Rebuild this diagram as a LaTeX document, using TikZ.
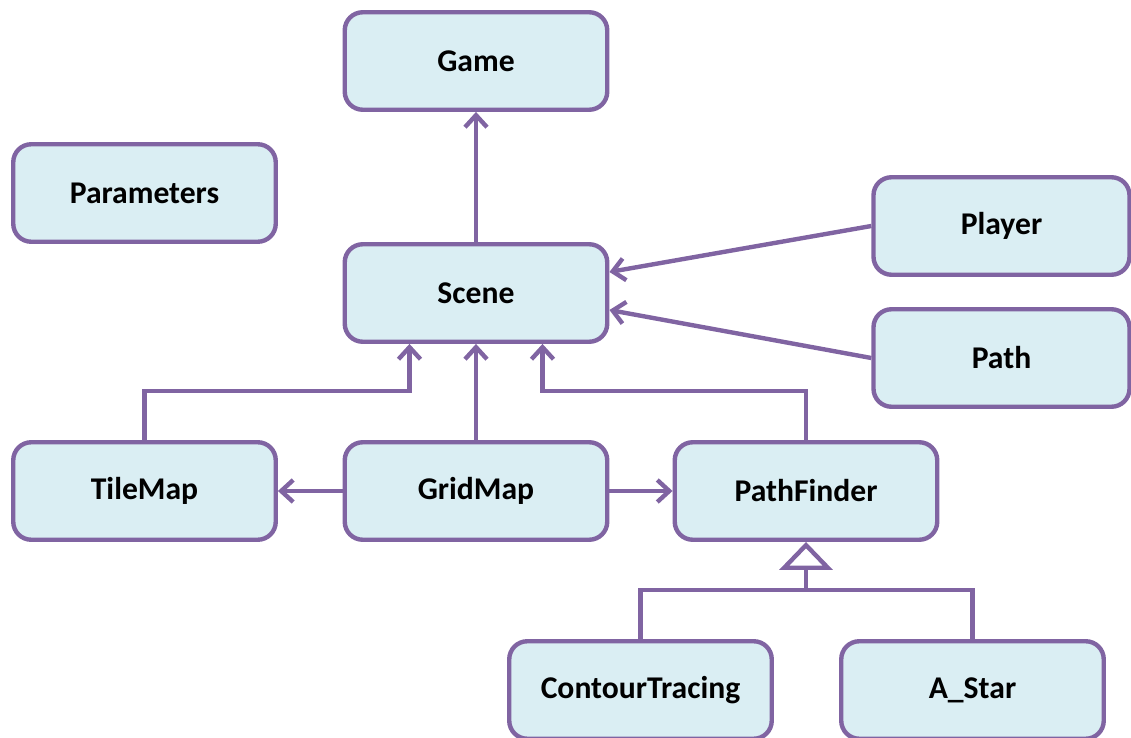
\documentclass[tikz,border=0pt]{standalone}
\usepackage{fontspec}
\setmainfont{Carlito}
\usepackage{xcolor}
\usepackage{tikz}
\usetikzlibrary{positioning, calc, arrows.meta}

\definecolor{boxline}{HTML}{8064A2}
\definecolor{boxfill}{HTML}{DAEEF3}

\begin{document}
\begin{tikzpicture}[>={Straight Barb[length=2.4mm,width=4.4mm]},
    cls/.style={draw=boxline, fill=boxfill, line width=2.5pt, rounded corners=3.6mm,
        minimum width=5.25cm, minimum height=1.95cm, inner sep=0pt,
        font=\fontsize{18}{21}\selectfont\bfseries},
    link/.style={draw=boxline, line width=2.5pt}]
        % Page frame
        \useasboundingbox (0,0) rectangle (22.62,14.74);

        % Classes
        \node[cls] (game) at (9.52,13.52) {Game};
        \node[cls] (params) at (2.89,10.88) {Parameters};
        \node[cls] (scene) at (9.52,8.88) {Scene};
        \node[cls, minimum width=5.12cm] (player) at (20.03,10.22) {Player};
        \node[cls, minimum width=5.12cm] (path) at (20.03,7.58) {Path};
        \node[cls] (tilemap) at (2.89,4.92) {TileMap};
        \node[cls] (gridmap) at (9.52,4.92) {GridMap};
        \node[cls] (pathfinder) at (16.12,4.92) {PathFinder};
        \node[cls] (contour) at (12.81,0.94) {ContourTracing};
        \node[cls] (astar) at (19.45,0.94) {A\_Star};

        % Scene belongs to game
        \draw[link, ->] (scene) -- (game);

        % Player and path point to scene
        \draw[link, ->] (player.west) -- ([yshift=0.42cm]scene.east);
        \draw[link, ->] (path.west) -- ([yshift=-0.34cm]scene.east);

        % Maps and path finder under scene
        \draw[link, ->] (tilemap.north) -- ++(0,0.98) -| ([xshift=-1.33cm]scene.south);
        \draw[link, ->] (gridmap) -- (scene);
        \draw[link, ->] (pathfinder.north) -- ++(0,0.98) -| ([xshift=1.33cm]scene.south);

        % Grid map uses the others
        \draw[link, ->] (gridmap) -- (tilemap);
        \draw[link, ->] (gridmap) -- (pathfinder);

        % Inheritance
        \coordinate (split) at (16.12,2.94);
        \draw[link, -{Triangle[open,length=5.6mm,width=10.6mm]}] (split) -- (pathfinder.south);
        \draw[link] (contour.north) |- (split) -| (astar.north);
\end{tikzpicture}
\end{document}
